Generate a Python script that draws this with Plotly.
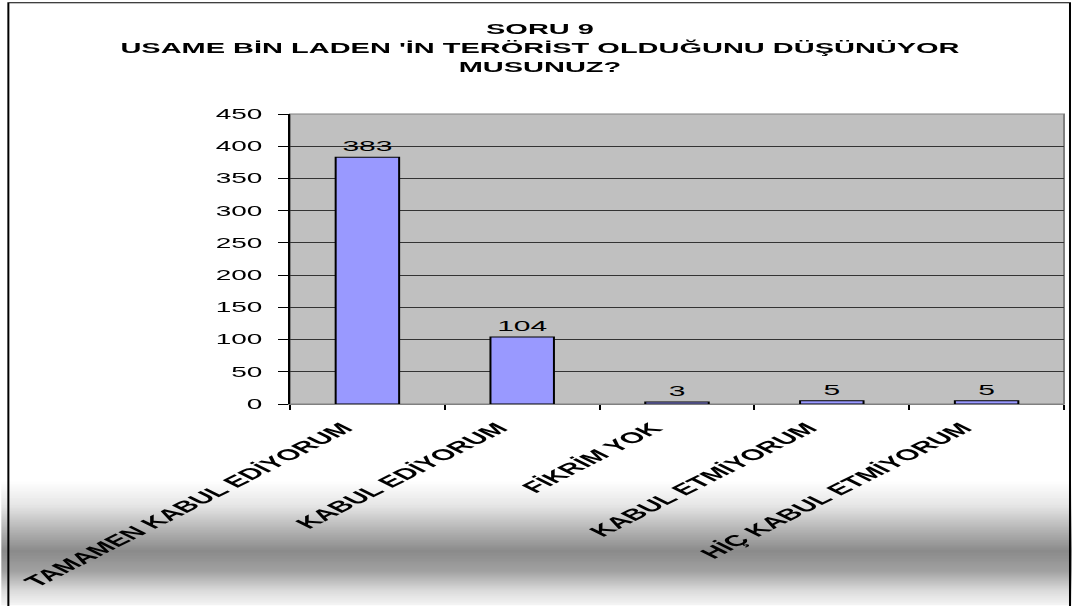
import plotly.graph_objects as go

categories = ["TAMAMEN KABUL EDİYORUM", "KABUL EDİYORUM", "FİKRİM YOK",
              "KABUL ETMİYORUM", "HİÇ KABUL ETMİYORUM"]
values = [383, 104, 3, 5, 5]
y_ticks = [0, 50, 100, 150, 200, 250, 300, 350, 400, 450]
title_lines = ["SORU 9", "USAME BİN LADEN 'İN TERÖRİST OLDUĞUNU DÜŞÜNÜYOR", "MUSUNUZ?"]

# The reference picture is stretched horizontally by about 2x; the figure is laid out
# at half width and stretched with a CSS transform when the page is shown.
SX = 2.0
W, H = 536, 606
ML, MR, MT, MB = 144.5, 4.0, 114.0, 201.5
PW, PH = W - ML - MR, H - MT - MB
FONT = "Liberation Sans, Arial, sans-serif"


def px_x(x):
    return (x - ML) / PW


def px_y(y):
    return (H - MB - y) / PH


fig = go.Figure()
fig.add_trace(go.Bar(
    x=categories, y=values, width=0.41,
    marker=dict(color="#9999FF", line=dict(color="#000000", width=1)),
    text=[str(v) for v in values], textposition="outside",
    textfont=dict(family=FONT, size=15, color="#000000"),
    cliponaxis=False, hoverinfo="skip",
))

# background gradient band (style only)
stops = [(482, 255), (505, 228), (530, 165), (552, 112), (572, 140), (592, 212), (606, 242)]


def shade(y):
    for (y0, c0), (y1, c1) in zip(stops[:-1], stops[1:]):
        if y0 <= y <= y1:
            return c0 + (c1 - c0) * (y - y0) / (y1 - y0)
    return 255


shapes = []
for y in range(482, 606):
    c = int(round(shade(y + 0.5)))
    shapes.append(dict(type="rect", xref="paper", yref="paper", layer="below",
                       x0=px_x(0), x1=px_x(W), y0=px_y(y + 1.05), y1=px_y(y),
                       fillcolor=f"rgb({c},{c},{c})", line=dict(width=0)))
# outer border
shapes.append(dict(type="rect", xref="paper", yref="paper", layer="above",
                   x0=px_x(3.5), x1=px_x(535), y0=px_y(612), y1=px_y(2.5),
                   line=dict(color="#000000", width=1)))
# plot-area border (gray)
shapes.append(dict(type="rect", xref="paper", yref="paper", layer="below",
                   x0=0, x1=1, y0=0, y1=1, line=dict(color="#808080", width=1)))

fig.update_layout(
    width=W, height=H,
    margin=dict(l=ML, r=MR, t=MT, b=MB, pad=0),
    paper_bgcolor="rgba(0,0,0,0)",
    plot_bgcolor="#C0C0C0",
    showlegend=False,
    shapes=shapes,
    title=dict(text="<br>".join(title_lines), x=270 / W, xanchor="center",
               xref="container", yref="container",
               y=1 - 34 / H, yanchor="top",
               font=dict(family=FONT, size=14.5, color="#000000", weight="bold")),
    font=dict(family=FONT, color="#000000"),
)
fig.update_xaxes(
    tickangle=-45, tickson="boundaries", ticks="outside", ticklen=5,
    tickcolor="#000000", showline=True, linecolor="#808080", linewidth=1,
    tickfont=dict(family=FONT, size=15.5, color="#000000", weight="bold"),
    showgrid=False, automargin=False,
    ticklabelshift=-12, ticklabelstandoff=8,
)
fig.update_yaxes(
    range=[0, 450], tickvals=y_ticks, ticks="outside", ticklen=5,
    tickcolor="#000000", showline=True, linecolor="#000000", linewidth=1,
    gridcolor="#333333", gridwidth=1, zeroline=False, automargin=False,
    ticklabelstandoff=5,
    tickfont=dict(family=FONT, size=14, color="#000000"),
)

post = (
    "document.body.style.margin='0';"
    "document.body.style.overflow='hidden';"
    "var gd=document.getElementById('{plot_id}');"
    "gd.style.transformOrigin='0 0';"
    f"gd.style.transform='scaleX({SX})';"
)
fig.write_html("out.html", post_script=post, config={"displayModeBar": False})
